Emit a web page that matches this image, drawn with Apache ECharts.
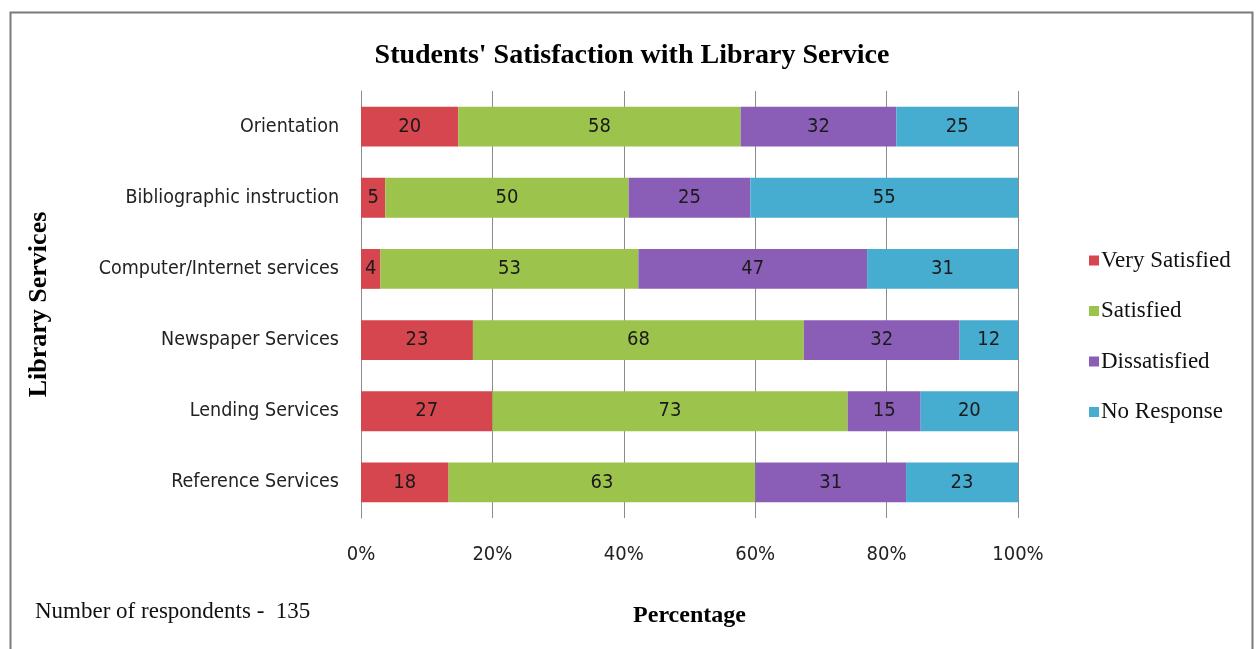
<!DOCTYPE html>
<html>
<head>
<meta charset="utf-8">
<script src="https://cdn.jsdelivr.net/npm/echarts@6/dist/echarts.min.js"></script>
<style>
html,body{margin:0;padding:0;background:#fff;}
#chart{width:1259px;height:649px;}
</style>
</head>
<body>
<div id="chart"></div>
<script>
// Survey counts per library service (135 respondents each)
const services = ['Reference Services', 'Lending Services', 'Newspaper Services',
  'Computer/Internet services', 'Bibliographic instruction', 'Orientation'];
const verySatisfied = [18, 27, 23, 4, 5, 20];
const satisfied     = [63, 73, 68, 53, 50, 58];
const dissatisfied  = [31, 15, 32, 47, 25, 32];
const noResponse    = [23, 20, 12, 31, 55, 25];
const respondents = 135;
const tickLabels = ['0%', '20%', '40%', '60%', '80%', '100%'];

const narrow = "'Liberation Sans Narrow', 'DejaVu Sans Condensed', 'Liberation Sans', sans-serif";
const serif = "'Liberation Serif', 'DejaVu Serif', serif";

function barSeries(name, data, color) {
  return {
    name: name,
    type: 'bar',
    stack: 'total',
    barWidth: '56%',
    data: data,
    itemStyle: { color: color },
    label: {
      show: true,
      position: 'inside',
      color: '#1a1a1a',
      fontFamily: narrow,
      fontSize: 20
    }
  };
}

const chart = echarts.init(document.getElementById('chart'), null, { renderer: 'canvas' });
chart.setOption({
  backgroundColor: '#fff',
  animation: false,
  title: {
    text: "Students' Satisfaction with Library Service",
    left: 627,
    top: 37,
    textAlign: 'center',
    textStyle: { fontFamily: serif, fontWeight: 'bold', fontSize: 28, color: '#000' }
  },
  legend: {
    orient: 'vertical',
    left: 1084,
    top: 244,
    itemWidth: 10,
    itemHeight: 10,
    itemGap: 27.5,
    icon: 'rect',
    textStyle: { fontFamily: serif, fontSize: 23, color: '#111', padding: [0, 0, 0, -3] },
    data: ['Very Satisfied', 'Satisfied', 'Dissatisfied', 'No Response']
  },
  grid: { left: 361, right: 241, top: 91, bottom: 131 },
  xAxis: {
    type: 'value',
    min: 0,
    max: respondents,
    interval: respondents / 5,
    name: 'Percentage',
    nameLocation: 'middle',
    nameGap: 86,
    nameTextStyle: { fontFamily: serif, fontWeight: 'bold', fontSize: 24, color: '#000' },
    axisLine: { show: false },
    axisTick: { show: false },
    axisLabel: {
      fontFamily: narrow, fontSize: 20, color: '#222', margin: 27,
      formatter: function (v) { return tickLabels[Math.round(v / (respondents / 5))]; }
    },
    splitLine: { show: true, lineStyle: { color: '#8c8c8c', width: 1 } }
  },
  yAxis: {
    type: 'category',
    data: services,
    name: 'Library Services',
    nameLocation: 'middle',
    nameGap: 309,
    nameRotate: 90,
    nameTextStyle: { fontFamily: serif, fontWeight: 'bold', fontSize: 26, color: '#000' },
    axisLine: { show: true, lineStyle: { color: '#8c8c8c', width: 1 } },
    axisTick: { show: false },
    axisLabel: { fontFamily: narrow, fontSize: 19.5, color: '#222', margin: 22 }
  },
  series: [
    barSeries('Very Satisfied', verySatisfied, '#d5464f'),
    barSeries('Satisfied', satisfied, '#9cc34c'),
    barSeries('Dissatisfied', dissatisfied, '#8a5eb6'),
    barSeries('No Response', noResponse, '#46acd0')
  ],
  graphic: [
    {
      type: 'rect',
      shape: { x: 10.5, y: 12.5, width: 1242, height: 660 },
      style: { fill: 'none', stroke: '#7a7a7a', lineWidth: 2 },
      silent: true
    },
    {
      type: 'text',
      left: 35,
      top: 600,
      style: { text: 'Number of respondents -  135', fontFamily: serif, fontSize: 23, fill: '#111' }
    }
  ]
});
</script>
</body>
</html>
